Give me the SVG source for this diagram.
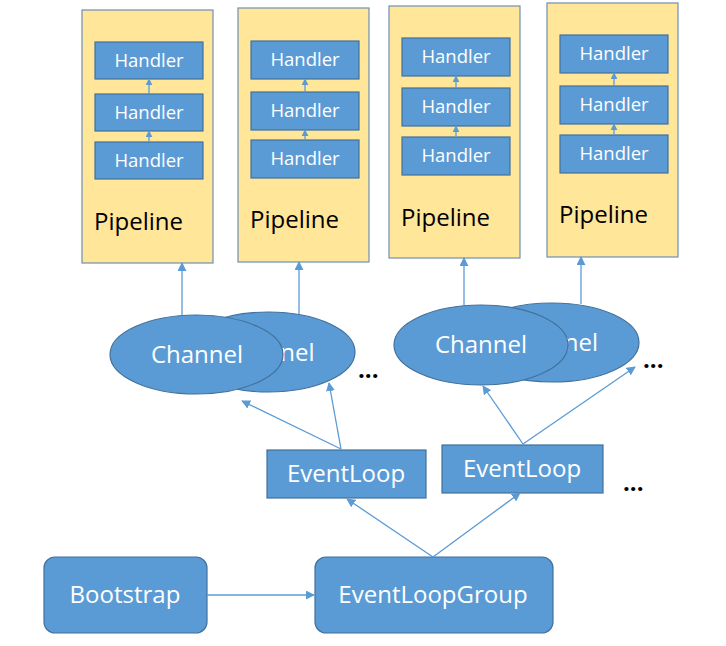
<svg xmlns="http://www.w3.org/2000/svg" width="726" height="646" viewBox="0 0 726 646">
  <defs>
    <marker id="arrow" viewBox="0 0 10 10" refX="9" refY="5" markerWidth="7" markerHeight="7" markerUnits="userSpaceOnUse" orient="auto">
      <path d="M0,0 L10,5 L0,10 z" fill="#5b9bd5"/>
    </marker>
    <marker id="arrowBig" viewBox="0 0 10 10" refX="9" refY="5" markerWidth="9" markerHeight="9" markerUnits="userSpaceOnUse" orient="auto">
      <path d="M0,0 L10,5 L0,10 z" fill="#5b9bd5"/>
    </marker>
  </defs>
  <style>
    .pipe { fill: #ffe699; stroke: #6f8fb8; stroke-width: 1.2; }
    .box { fill: #5b9bd5; stroke: #41719c; stroke-width: 1.2; }
    .oval { fill: #5b9bd5; stroke: #41719c; stroke-width: 1.2; }
    .lbl { font-family: "Open Sans", "Liberation Sans", sans-serif; font-weight: 500; fill: #ffffff; text-anchor: middle; }
    .h { font-size: 18.5px; }
    .big { font-size: 24px; }
    .pl { font-family: "Open Sans", "Liberation Sans", sans-serif; font-weight: 500; font-size: 24px; fill: #000000; }
    .dots { font-family: "Open Sans", "Liberation Sans", sans-serif; font-size: 24px; font-weight: bold; fill: #000000; }
    .link { stroke: #5b9bd5; stroke-width: 1.3; fill: none; marker-end: url(#arrowBig); }
    .hlink { stroke: #5b9bd5; stroke-width: 1.3; fill: none; marker-end: url(#arrow); }
  </style>

  <!-- Pipeline 1 -->
  <g id="pipeline1">
    <rect class="pipe" x="82" y="10" width="131" height="253"/>
    <rect class="box" x="95" y="42" width="108" height="37"/>
    <rect class="box" x="95" y="94" width="108" height="37"/>
    <rect class="box" x="95" y="142" width="108" height="37"/>
    <text class="lbl h" x="149" y="67">Handler</text>
    <text class="lbl h" x="149" y="119">Handler</text>
    <text class="lbl h" x="149" y="167">Handler</text>
    <line class="hlink" x1="149" y1="94" x2="149" y2="79"/>
    <line class="hlink" x1="149" y1="142" x2="149" y2="131"/>
    <text class="pl" x="94" y="230">Pipeline</text>
  </g>

  <!-- Pipeline 2 -->
  <g id="pipeline2">
    <rect class="pipe" x="238" y="8" width="131" height="254"/>
    <rect class="box" x="251" y="41" width="108" height="38"/>
    <rect class="box" x="251" y="92" width="108" height="38"/>
    <rect class="box" x="251" y="140" width="108" height="38"/>
    <text class="lbl h" x="305" y="66">Handler</text>
    <text class="lbl h" x="305" y="117">Handler</text>
    <text class="lbl h" x="305" y="165">Handler</text>
    <line class="hlink" x1="305" y1="92" x2="305" y2="79"/>
    <line class="hlink" x1="305" y1="140" x2="305" y2="130"/>
    <text class="pl" x="250" y="228">Pipeline</text>
  </g>

  <!-- Pipeline 3 -->
  <g id="pipeline3">
    <rect class="pipe" x="389" y="6" width="131" height="252"/>
    <rect class="box" x="402" y="38" width="108" height="38"/>
    <rect class="box" x="402" y="88" width="108" height="38"/>
    <rect class="box" x="402" y="137" width="108" height="38"/>
    <text class="lbl h" x="456" y="63">Handler</text>
    <text class="lbl h" x="456" y="113">Handler</text>
    <text class="lbl h" x="456" y="162">Handler</text>
    <line class="hlink" x1="456" y1="88" x2="456" y2="76"/>
    <line class="hlink" x1="456" y1="137" x2="456" y2="126"/>
    <text class="pl" x="401" y="226">Pipeline</text>
  </g>

  <!-- Pipeline 4 -->
  <g id="pipeline4">
    <rect class="pipe" x="547" y="3" width="131" height="254"/>
    <rect class="box" x="560" y="35" width="108" height="38"/>
    <rect class="box" x="560" y="86" width="108" height="38"/>
    <rect class="box" x="560" y="135" width="108" height="38"/>
    <text class="lbl h" x="614" y="60">Handler</text>
    <text class="lbl h" x="614" y="111">Handler</text>
    <text class="lbl h" x="614" y="160">Handler</text>
    <line class="hlink" x1="614" y1="86" x2="614" y2="73"/>
    <line class="hlink" x1="614" y1="135" x2="614" y2="124"/>
    <text class="pl" x="559" y="223">Pipeline</text>
  </g>

  <!-- Channels, first pair (back one drawn first, partly hidden) -->
  <g id="channel2">
    <ellipse class="oval" cx="268.5" cy="352" rx="86.5" ry="40"/>
    <text class="lbl big" x="268.5" y="361">Channel</text>
  </g>
  <g id="channel1">
    <ellipse class="oval" cx="196.5" cy="354.5" rx="86.5" ry="39.5"/>
    <text class="lbl big" x="197" y="363">Channel</text>
  </g>

  <!-- Channels, second pair -->
  <g id="channel4">
    <ellipse class="oval" cx="552" cy="342.5" rx="87" ry="39.5"/>
    <text class="lbl big" x="552" y="351">Channel</text>
  </g>
  <g id="channel3">
    <ellipse class="oval" cx="481" cy="345" rx="87" ry="40"/>
    <text class="lbl big" x="481" y="353">Channel</text>
  </g>

  <!-- Event loops -->
  <g id="eventloop1">
    <rect class="box" x="267" y="450" width="159" height="48"/>
    <text class="lbl big" x="346" y="482">EventLoop</text>
  </g>
  <g id="eventloop2">
    <rect class="box" x="442" y="445" width="161" height="48"/>
    <text class="lbl big" x="522" y="477">EventLoop</text>
  </g>

  <!-- Bootstrap and group -->
  <g id="bootstrap">
    <rect class="box" x="44" y="557" width="163" height="76" rx="11" ry="11"/>
    <text class="lbl big" x="125" y="603">Bootstrap</text>
  </g>
  <g id="eventloopgroup">
    <rect class="box" x="315" y="557" width="238" height="76" rx="11" ry="11"/>
    <text class="lbl big" x="433" y="603">EventLoopGroup</text>
  </g>

  <!-- Ellipsis marks -->
  <g id="more">
    <text class="dots" x="358" y="378">...</text>
    <text class="dots" x="643" y="368">...</text>
    <text class="dots" x="623" y="491">...</text>
  </g>

  <!-- Connectors -->
  <g id="connectors">
    <line class="link" x1="182" y1="315" x2="182" y2="263"/>
    <line class="link" x1="299" y1="314" x2="299" y2="262"/>
    <line class="link" x1="464" y1="305" x2="464" y2="258"/>
    <line class="link" x1="581" y1="304" x2="581" y2="257"/>

    <line class="link" x1="341" y1="449" x2="242" y2="401"/>
    <line class="link" x1="341" y1="449" x2="329" y2="383"/>
    <line class="link" x1="523" y1="444" x2="483" y2="386"/>
    <line class="link" x1="523" y1="444" x2="635" y2="367"/>

    <line class="link" x1="433" y1="557" x2="347" y2="499"/>
    <line class="link" x1="433" y1="557" x2="520" y2="493"/>

    <line class="link" x1="207" y1="595" x2="314" y2="595"/>
  </g>
</svg>
